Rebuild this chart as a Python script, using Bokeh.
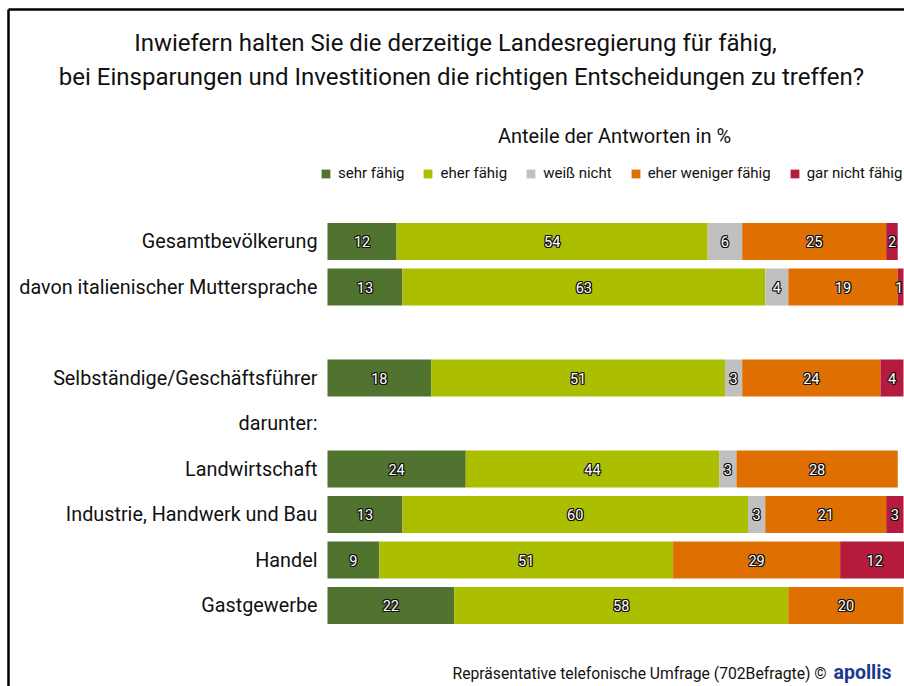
from bokeh.plotting import figure
from bokeh.models import Range1d, ColumnDataSource, Legend, LegendItem
from bokeh.core.properties import value
from bokeh.embed import file_html
from bokeh.resources import INLINE

# ---------------- data ----------------
title_lines = ["Inwiefern halten Sie die derzeitige Landesregierung für fähig,",
               "bei Einsparungen und Investitionen die richtigen Entscheidungen zu treffen?"]
subtitle = "Anteile der Antworten in %"
footer = "Repräsentative telefonische Umfrage (702Befragte) ©"
brand = "apollis"
group_label = "darunter:"

categories = ["Gesamtbevölkerung", "davon italienischer Muttersprache",
              "Selbständige/Geschäftsführer", "Landwirtschaft",
              "Industrie, Handwerk und Bau", "Handel", "Gastgewerbe"]
series_names = ["sehr fähig", "eher fähig", "weiß nicht", "eher weniger fähig", "gar nicht fähig"]
sehr_faehig = [12, 13, 18, 24, 13, 9, 22]
eher_faehig = [54, 63, 51, 44, 60, 51, 58]
weiss_nicht = [6, 4, 3, 3, 3, 0, 0]
eher_weniger_faehig = [25, 19, 24, 28, 21, 29, 20]
gar_nicht_faehig = [2, 1, 4, 0, 3, 12, 0]
series_values = [sehr_faehig, eher_faehig, weiss_nicht, eher_weniger_faehig, gar_nicht_faehig]

# ---------------- layout / style ----------------
colors = ["#50732F", "#ABBE00", "#C0C0C0", "#DE6F00", "#B41B3C"]
row_slots = [0, 1, 3, 5, 6, 7, 8]
group_slot = 4

W, H = 904, 686
PX = 5.76        # pixels per percent
X0 = 327         # x of 0 %
ROW0 = 241       # y of first row centre
ROW_H = 45.5     # row pitch in px
BAR_H = 37 / ROW_H

def cx(px):
    return (px - X0) / PX

def cy(py):
    return (py - ROW0) / ROW_H

FONT = "Roboto"
TXT = "#111111"

p = figure(width=W, height=H, output_backend="svg", toolbar_location=None,
           x_range=Range1d(cx(0), cx(W)), y_range=Range1d(cy(H), cy(0)),
           min_border=0, x_axis_location=None, y_axis_location=None)
p.grid.visible = False
p.outline_line_color = None
p.background_fill_color = "white"
p.border_fill_color = "white"

# frame lines (top and left)
p.segment(x0=[cx(8), cx(8)], y0=[cy(9), cy(9)], x1=[cx(W + 10), cx(8)], y1=[cy(9), cy(H + 10)],
          line_color="black", line_width=2.5)

# stacked bars
left = [0.0] * len(categories)
legend_items = []
label_x, label_y, label_t = [], [], []
max_label_x = cx(898.5)
for name, vals, col in zip(series_names, series_values, colors):
    ys, ls, rs = [], [], []
    for i, v in enumerate(vals):
        if v > 0:
            ys.append(row_slots[i])
            ls.append(left[i])
            rs.append(left[i] + v)
            label_x.append(min(left[i] + v / 2, max_label_x))
            label_y.append(row_slots[i])
            label_t.append(str(v))
        left[i] += v
    src = ColumnDataSource(dict(y=ys, left=ls, right=rs))
    r = p.hbar(y="y", left="left", right="right", height=BAR_H, source=src,
               fill_color=col, line_color=None)
    legend_items.append(LegendItem(label=name, renderers=[r]))

# value labels: thin black outline, white fill
lab_src = ColumnDataSource(dict(x=label_x, y=label_y, t=label_t))
for dx, dy in [(-1, 0), (1, 0), (0, -1), (0, 1), (-1, -1), (1, 1), (-1, 1), (1, -1)]:
    p.text(x="x", y="y", text="t", source=lab_src, x_offset=dx, y_offset=dy,
           text_align="center", text_baseline="middle", text_color="#111111",
           text_font=value(FONT), text_font_size="14.5px")
p.text(x="x", y="y", text="t", source=lab_src,
       text_align="center", text_baseline="middle", text_color="white",
       text_font=value(FONT), text_font_size="14.5px")

# category labels
p.text(x=[cx(317)] * len(categories), y=row_slots, text=categories,
       text_align="right", text_baseline="middle", text_color=TXT,
       text_font=value(FONT), text_font_size="19.8px")
p.text(x=[cx(317)], y=[group_slot], text=[group_label],
       text_align="right", text_baseline="middle", text_color=TXT,
       text_font=value(FONT), text_font_size="19.8px")

# title
p.text(x=[cx(455), cx(461)], y=[cy(42), cy(76)], text=title_lines,
       text_align="center", text_baseline="middle", text_color=TXT,
       text_font=value(FONT), text_font_size="24px")
# subtitle
p.text(x=[cx(614)], y=[cy(135)], text=[subtitle], text_align="center",
       text_baseline="middle", text_color=TXT, text_font=value(FONT),
       text_font_size="20px")
# footer
p.text(x=[cx(452)], y=[cy(673)], text=[footer], text_align="left",
       text_baseline="middle", text_color=TXT, text_font=value(FONT),
       text_font_size="15.7px")
p.text(x=[cx(833)], y=[cy(672)], text=[brand], text_align="left",
       text_baseline="middle", text_color="#1B3A8F", text_font=value(FONT),
       text_font_style="bold", text_font_size="19.5px")

legend = Legend(items=legend_items, orientation="horizontal", location=(320, 504),
                glyph_width=11, glyph_height=11, label_standoff=7, spacing=18,
                padding=0, margin=0, background_fill_alpha=0, border_line_color=None,
                label_text_font=FONT, label_text_font_size="15px",
                label_text_color=TXT)
p.add_layout(legend, "center")

open("out.html", "w").write(file_html(p, INLINE))
